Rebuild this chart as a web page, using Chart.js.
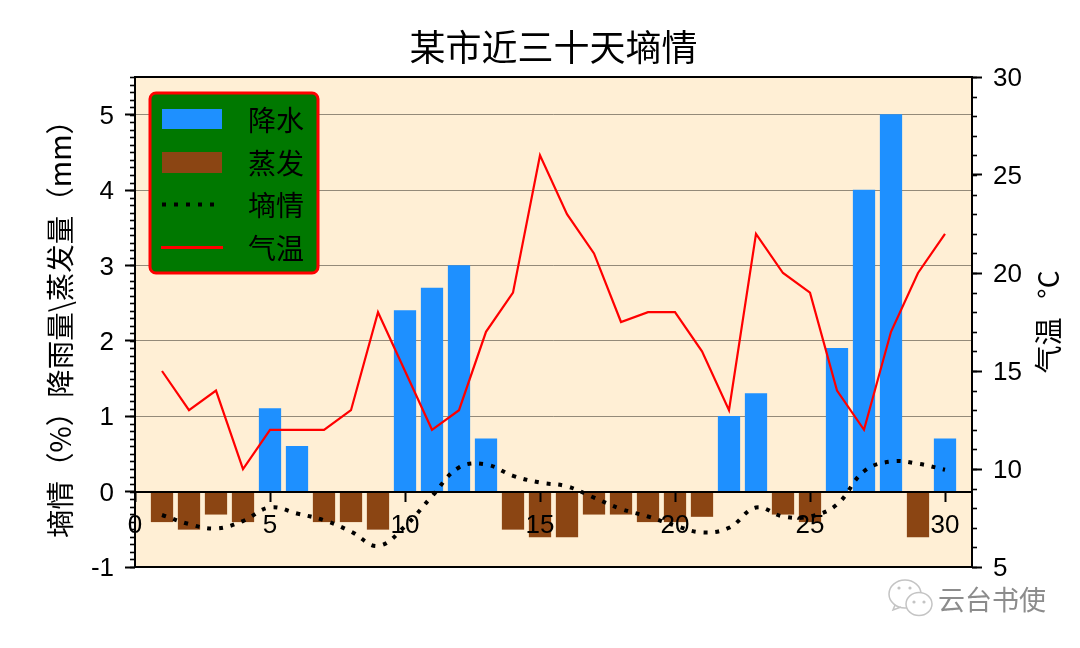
<!DOCTYPE html>
<html>
<head>
<meta charset="utf-8">
<title>某市近三十天墒情</title>
<script src="https://cdn.jsdelivr.net/npm/chart.js@4"></script>
<style>
html, body { margin: 0; padding: 0; background: #fff; }
canvas { display: block; }
</style>
</head>
<body>
<canvas id="myChart" width="1080" height="648"></canvas>
<script>
const days = [1,2,3,4,5,6,7,8,9,10,11,12,13,14,15,16,17,18,19,20,21,22,23,24,25,26,27,28,29,30]
const rain = [0,0,0,0,1.1,0.6,0,0,0,2.4,2.7,3.0,0.7,0,0,0,0,0,0,0,0,1.0,1.3,0,0,1.9,4.0,5.0,0,0.7]
const evaporation = [-0.4,-0.5,-0.3,-0.4,0,0,-0.4,-0.4,-0.5,0,0,0,0,-0.5,-0.6,-0.6,-0.3,-0.3,-0.4,-0.4,-0.33,0,0,-0.3,-0.4,0,0,0,-0.6,0]
const moisture = [-0.31,-0.43,-0.49,-0.39,-0.21,-0.29,-0.38,-0.53,-0.72,-0.46,-0.06,0.32,0.36,0.21,0.12,0.07,-0.08,-0.23,-0.33,-0.45,-0.54,-0.48,-0.21,-0.33,-0.33,-0.17,0.27,0.40,0.37,0.29]
const temperature = [15,13,14,10,12,12,12,13,18,15,12,13,17,19,26,23,21,17.5,18,18,16,13,22,20,19,14,12,17,20,22]

const seriesNames = ['降水', '蒸发', '墒情', '气温']
const xTickStep = 5
const leftTickStep = 1
const rightTickStep = 5
const leftMinorStep = 0.1
const rightMinorStep = 1

const cjk = '"Noto Sans CJK SC", sans-serif'
const digits = '"Liberation Sans", sans-serif'

function toPoints(values) {
    return days.map((d, i) => ({ x: d, y: values[i] }))
}

// frame, minor ticks, legend box, right axis title, watermark
const extras = {
    id: 'extras',
    beforeDraw(chart) {
        const a = chart.chartArea
        const ctx = chart.ctx
        ctx.save()
        ctx.fillStyle = '#FFEFD5'
        ctx.fillRect(a.left, a.top, a.right - a.left, a.bottom - a.top)
        ctx.restore()
    },
    afterDraw(chart) {
        const a = chart.chartArea
        const ctx = chart.ctx
        ctx.save()

        // minor ticks
        ctx.strokeStyle = '#000'
        ctx.lineWidth = 1.6
        const yl = chart.scales.y
        for (let i = 0; i <= 65; i++) {
            const p = Math.round(yl.getPixelForValue(yl.min + i * leftMinorStep)) + 0.5
            ctx.beginPath()
            ctx.moveTo(a.left - 5, p)
            ctx.lineTo(a.left, p)
            ctx.stroke()
        }
        const yr = chart.scales.y2
        for (let v = yr.min; v <= yr.max; v += rightMinorStep) {
            const p = Math.round(yr.getPixelForValue(v)) + 0.5
            ctx.beginPath()
            ctx.moveTo(a.right, p)
            ctx.lineTo(a.right + 5, p)
            ctx.stroke()
        }

        // frame
        ctx.lineWidth = 2
        ctx.strokeRect(a.left, a.top, a.right - a.left, a.bottom - a.top)

        // legend
        ctx.beginPath()
        ctx.roundRect(150, 93, 168, 180, 6)
        ctx.fillStyle = '#007800'
        ctx.fill()
        ctx.lineWidth = 3
        ctx.strokeStyle = '#ff0000'
        ctx.stroke()

        ctx.fillStyle = '#1E90FF'
        ctx.fillRect(162, 109, 60, 20)
        ctx.fillStyle = '#8B4513'
        ctx.fillRect(162, 152, 60, 21)

        ctx.beginPath()
        ctx.setLineDash([4, 8])
        ctx.lineWidth = 4
        ctx.strokeStyle = '#000'
        ctx.moveTo(162, 204.5)
        ctx.lineTo(222, 204.5)
        ctx.stroke()
        ctx.setLineDash([])

        ctx.beginPath()
        ctx.lineWidth = 3
        ctx.strokeStyle = '#ff0000'
        ctx.moveTo(161, 247.5)
        ctx.lineTo(223, 247.5)
        ctx.stroke()

        ctx.fillStyle = '#000'
        ctx.font = '28px ' + cjk
        ctx.textBaseline = 'middle'
        ctx.textAlign = 'left'
        const legendY = [120, 163, 205, 248]
        seriesNames.forEach((n, i) => ctx.fillText(n, 248, legendY[i]))

        // right axis title, reads upwards
        ctx.save()
        ctx.translate(1048, 322)
        ctx.rotate(-Math.PI / 2)
        ctx.textAlign = 'center'
        ctx.font = '28px ' + cjk
        ctx.fillText('气温   °C', 0, 0)
        ctx.restore()

        // watermark
        ctx.lineWidth = 1.5
        ctx.strokeStyle = '#c4c4c4'
        ctx.fillStyle = '#ffffff'
        ctx.beginPath()
        ctx.ellipse(905, 594, 16, 14, 0, 0, Math.PI * 2)
        ctx.moveTo(895, 605)
        ctx.lineTo(893, 610)
        ctx.lineTo(901, 607)
        ctx.fill()
        ctx.stroke()
        ctx.beginPath()
        ctx.ellipse(919, 604, 13, 11.5, 0, 0, Math.PI * 2)
        ctx.fill()
        ctx.stroke()
        ctx.fillStyle = '#c4c4c4'
        const dots = [[899, 588], [910, 588], [914, 602], [924, 602]]
        dots.forEach(d => {
            ctx.beginPath()
            ctx.arc(d[0], d[1], 1.6, 0, Math.PI * 2)
            ctx.fill()
        })
        ctx.fillStyle = '#8c8c8c'
        ctx.font = '27px ' + cjk
        ctx.textAlign = 'left'
        ctx.fillText('云台书使', 938, 600)

        ctx.restore()
    }
}

const data = {
    datasets: [
        { type: 'bar', label: seriesNames[0], data: toPoints(rain), backgroundColor: '#1E90FF', barThickness: 21.6, grouped: false, order: 4 },
        { type: 'bar', label: seriesNames[1], data: toPoints(evaporation), backgroundColor: '#8B4513', barThickness: 21.6, grouped: false, order: 3 },
        { type: 'line', label: seriesNames[2], data: toPoints(moisture), borderColor: '#000', borderWidth: 4, borderDash: [4, 7.8], tension: 0.4, pointRadius: 0, order: 2 },
        { type: 'line', label: seriesNames[3], data: toPoints(temperature), yAxisID: 'y2', borderColor: '#ff0000', borderWidth: 2.2, tension: 0, pointRadius: 0, order: 1 }
    ]
}

const config = {
    data: data,
    plugins: [extras],
    options: {
        responsive: false,
        animation: false,
        events: [],
        layout: { padding: { left: 0, right: 0, top: 0, bottom: 81 } },
        plugins: {
            legend: { display: false },
            tooltip: { enabled: false },
            title: {
                display: true,
                text: '某市近三十天墒情',
                fullSize: false,
                color: '#000',
                font: { family: cjk, size: 36, weight: 'normal', lineHeight: 1.2 },
                padding: { top: 26, bottom: 7.8 }
            }
        },
        scales: {
            x: {
                type: 'linear',
                position: { y: 0 },
                min: 0,
                max: 31,
                offset: false,
                grid: { offset: false, drawOnChartArea: false, tickLength: 9, tickColor: '#000', tickWidth: 2, z: 1 },
                border: { display: true, color: '#000', width: 2, z: 1 },
                ticks: {
                    stepSize: xTickStep,
                    includeBounds: false,
                    autoSkip: false,
                    maxRotation: 0,
                    padding: 10,
                    color: '#000',
                    z: 1,
                    font: { family: digits, size: 26 }
                }
            },
            y: {
                position: 'left',
                min: -1,
                max: 5.5,
                afterFit: scale => { scale.width = 135 },
                grid: { color: 'rgba(60,55,45,0.55)', lineWidth: 1, tickLength: 10, tickColor: '#000', tickWidth: 2 },
                border: { display: false },
                title: {
                    display: true,
                    text: '墒情（%）降雨量\\蒸发量（mm）',
                    color: '#000',
                    font: { family: cjk, size: 28.5, lineHeight: 1.2 },
                    padding: { top: 43, bottom: 0 }
                },
                ticks: {
                    stepSize: leftTickStep,
                    includeBounds: false,
                    padding: 11,
                    labelOffset: 2,
                    color: '#000',
                    font: { family: digits, size: 26 }
                }
            },
            y2: {
                position: 'right',
                min: 5,
                max: 30,
                afterFit: scale => { scale.width = 108 },
                grid: { drawOnChartArea: false, tickLength: 10, tickColor: '#000', tickWidth: 2 },
                border: { display: false },
                ticks: {
                    stepSize: rightTickStep,
                    padding: 11,
                    labelOffset: 2,
                    color: '#000',
                    font: { family: digits, size: 26 }
                }
            }
        }
    }
}

const myChart = new Chart(document.getElementById('myChart'), config)
</script>
</body>
</html>
